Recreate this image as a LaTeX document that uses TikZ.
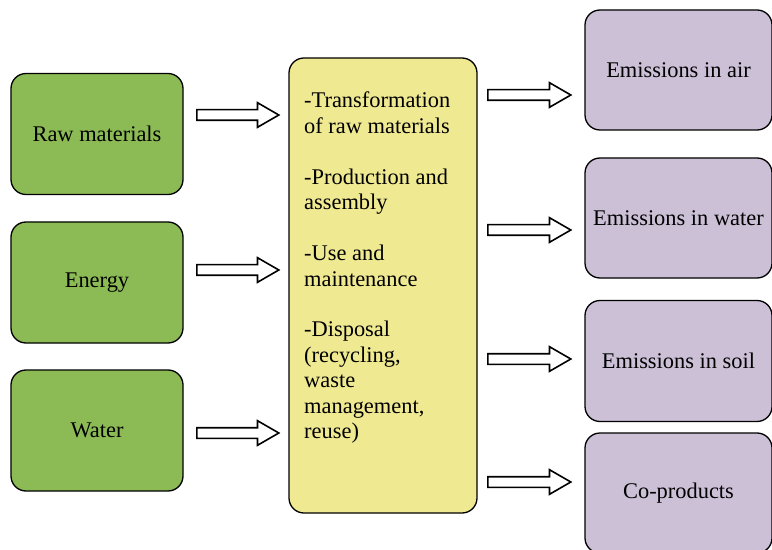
\documentclass[tikz,border=0pt]{standalone}
\usepackage{fontspec}
\setmainfont{Liberation Serif}
\usetikzlibrary{shapes.arrows}
\definecolor{inputgreen}{RGB}{140,187,85}
\definecolor{processyellow}{RGB}{239,233,145}
\definecolor{outputlilac}{RGB}{204,192,215}
\tikzset{
  box/.style={draw=black, line width=1.3bp, rounded corners=15bp, inner sep=0pt,
    font=\fontsize{22.5}{25.5}\selectfont},
  inbox/.style={box, fill=inputgreen, minimum width=172bp, minimum height=121bp},
  outbox/.style={box, fill=outputlilac, minimum width=187bp, minimum height=121bp},
  flow/.style={draw=black, fill=white, line width=1.6bp, single arrow, inner sep=0pt,
    inner ysep=4.5bp, text height=0pt, text depth=0pt, single arrow head extend=7bp,
    single arrow tip angle=60, minimum height=82bp, anchor=tail}
}
\begin{document}
\begin{tikzpicture}[x=1bp,y=-1bp]
                \useasboundingbox (0,0) rectangle (772,550);
                \clip (0,0) rectangle (772,550);
                % inputs
                \node[inbox] (raw)    at (97,134)   {Raw materials};
                \node[inbox] (energy) at (97,282.5) {Energy};
                \node[inbox] (water)  at (97,430.5) {Water};
                % life cycle
                \node[box, fill=processyellow, minimum width=188bp, minimum height=455bp] (cycle) at (383,285.5) {};
                \node[anchor=north west, align=left, inner sep=0pt, font=\fontsize{22.5}{25.5}\selectfont] (stages) at (304,92)
                  {-Transformation\\of raw materials\\[25.5bp]
                   -Production and\\assembly\\[25.5bp]
                   -Use and\\maintenance\\[25.5bp]
                   -Disposal\\(recycling,\\waste\\management,\\reuse)};
                % outputs
                \node[outbox, minimum height=120bp] (air)   at (678.5,70)  {Emissions in air};
                \node[outbox, minimum height=120bp] (wat)   at (678.5,218) {Emissions in water};
                \node[outbox] (soil)  at (678.5,361) {Emissions in soil};
                \node[outbox, minimum height=120bp] (co)    at (678.5,493) {Co-products};
                % flows
                \foreach \y/\n in {115/in1, 270/in2, 433/in3}{\node[flow] (\n) at (196,\y) {};}
                \foreach \y/\n in {95/out1, 230/out2, 359/out3, 482/out4}{\node[flow, minimum height=83bp] (\n) at (487,\y) {};}
\end{tikzpicture}
\end{document}
